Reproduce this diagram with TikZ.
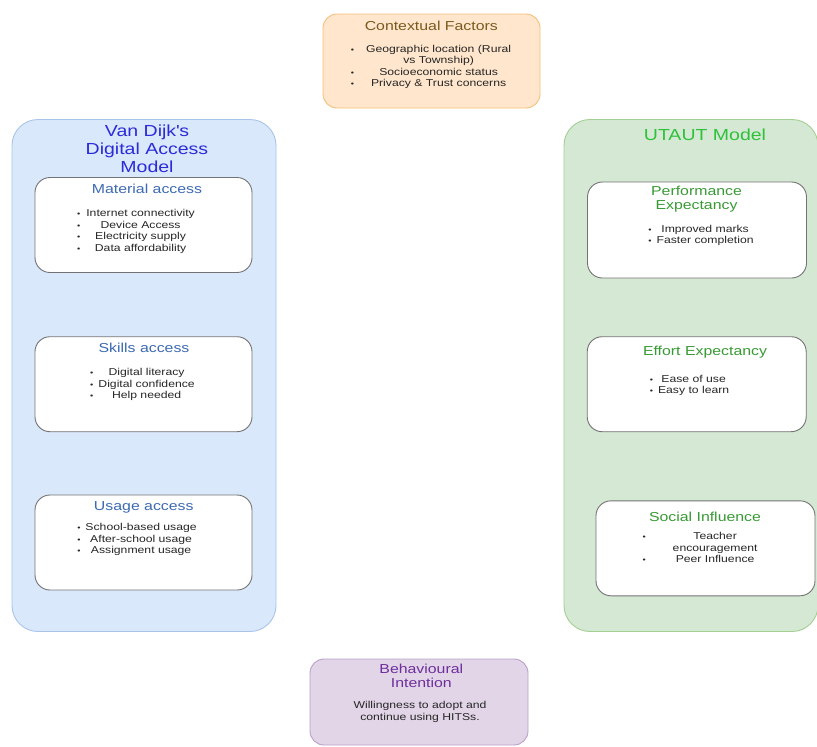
\documentclass[tikz,border=0pt]{standalone}
\usepackage{fontspec}
\setmainfont{Liberation Sans}[FakeStretch=1.22]
\usepackage{tikz}
\usetikzlibrary{positioning}

\definecolor{bluefill}{HTML}{DAE8FC}
\definecolor{blueline}{HTML}{A9C4EB}
\definecolor{greenfill}{HTML}{D5E8D4}
\definecolor{greenline}{HTML}{A3CF93}
\definecolor{orangefill}{HTML}{FFE6CC}
\definecolor{orangeline}{HTML}{F2C07A}
\definecolor{purplefill}{HTML}{E1D5E7}
\definecolor{purpleline}{HTML}{B9A0C9}
\definecolor{vdtitle}{HTML}{2B2BD9}
\definecolor{vdsub}{HTML}{3C6AB2}
\definecolor{uttitle}{HTML}{2EC23A}
\definecolor{utsub}{HTML}{389A34}
\definecolor{ctxtitle}{HTML}{7A5A1E}
\definecolor{bititle}{HTML}{6E2E9C}
\definecolor{itemtext}{HTML}{262626}

\newcommand{\bul}{{\fontsize{7.5}{7.5}\selectfont\textbullet}}
\newcommand{\blist}[2]{\begin{tabular}{@{}c@{\hspace{#1}}c@{}}#2\end{tabular}}

\tikzset{
  frame/.style={rectangle, rounded corners=#1, line width=0.9pt, inner sep=0pt},
  frame/.default=15pt,
  subbox/.style={frame, draw=black!55, fill=white, minimum width=217pt, minimum height=95pt},
  items/.style={inner sep=0pt, text=itemtext, font=\fontsize{10}{11.6}\selectfont},
}

\begin{document}
\begin{tikzpicture}[x=1pt,y=-1pt]
	\useasboundingbox (0,0) rectangle (817,747);
	\clip (0,0) rectangle (817,747);

	% outer frames
	\node[frame=26pt, draw=blueline, fill=bluefill, minimum width=264pt, minimum height=512pt] (vd) at (144,375.5) {};
	\node[frame=26pt, draw=greenline, fill=greenfill, minimum width=254pt, minimum height=512pt] (ut) at (691,375.5) {};
	\node[frame=14pt, draw=orangeline, fill=orangefill, minimum width=217pt, minimum height=94pt] (ctx) at (431.5,61) {};
	\node[frame=14pt, draw=purpleline, fill=purplefill, minimum width=218pt, minimum height=86pt] (bi) at (419,702) {};

	% inner boxes
	\node[subbox] (mat) at (143.5,225) {};
	\node[subbox] (skl) at (143.5,384.2) {};
	\node[subbox] (use) at (143.5,542.5) {};
	\node[subbox, minimum width=219pt, minimum height=96pt] (pe) at (697,230) {};
	\node[subbox, minimum width=219pt] (ee) at (696.7,384.2) {};
	\node[subbox, minimum width=219pt] (si) at (705.5,548.3) {};

	% headings
	\begin{scope}[every node/.style={inner sep=0pt, align=center}]
		\node[text=vdtitle, font=\fontsize{16}{18}\selectfont] (vdT) at (147,148.5) {Van Dijk\textquotesingle s\\Digital Access\\Model};
		\node[text=uttitle, font=\fontsize{16}{18}\selectfont] (utT) at (705,134.7) {UTAUT Model};
		\node[text=ctxtitle, font=\fontsize{13}{14.5}\selectfont] (ctxT) at (431.3,26.2) {Contextual Factors};
		\node[text=bititle, font=\fontsize{13}{14.5}\selectfont] (biT) at (421.3,676) {Behavioural\\Intention};
	\end{scope}

	\begin{scope}[every node/.style={inner sep=0pt, align=center, font=\fontsize{13}{14.5}\selectfont}]
		\node[text=vdsub] (matT) at (147,189) {Material access};
		\node[text=vdsub] (sklT) at (144,348.3) {Skills access};
		\node[text=vdsub] (useT) at (143.8,507) {Usage access};
		\node[text=utsub] (peT) at (696.5,199) {Performance\\Expectancy};
		\node[text=utsub] (eeT) at (705,352.3) {Effort Expectancy};
		\node[text=utsub] (siT) at (705,516.7) {Social Influence};
	\end{scope}

	% bullet lists
	\begin{scope}[every node/.style={items}]
		\node (ctxL) at (431,67.2) {\blist{12pt}{\bul & Geographic location (Rural\\ & vs Township)\\ \bul & Socioeconomic status\\ \bul & Privacy \& Trust concerns}};
		\node (matL) at (136,231.5) {\blist{6pt}{\bul & Internet connectivity\\ \bul & Device Access\\ \bul & Electricity supply\\ \bul & Data affordability}};
		\node (sklL) at (142.5,385) {\blist{5pt}{\bul & Digital literacy\\ \bul & Digital confidence\\ \bul & Help needed}};
		\node (useL) at (137,540) {\blist{5pt}{\bul & School-based usage\\ \bul & After-school usage\\ \bul & Assignment usage}};
		\node (peL) at (701,235.5) {\blist{5pt}{\bul & Improved marks\\ \bul & Faster completion}};
		\node (eeL) at (689.5,385.5) {\blist{5pt}{\bul & Ease of use\\ \bul & Easy to learn}};
		\node (siL) at (700,549) {\blist{27pt}{\bul & Teacher\\ & encouragement\\ \bul & Peer Influence}};
		\node[align=center] (biL) at (420,712) {Willingness to adopt and\\continue using HITSs.};
	\end{scope}
\end{tikzpicture}
\end{document}
